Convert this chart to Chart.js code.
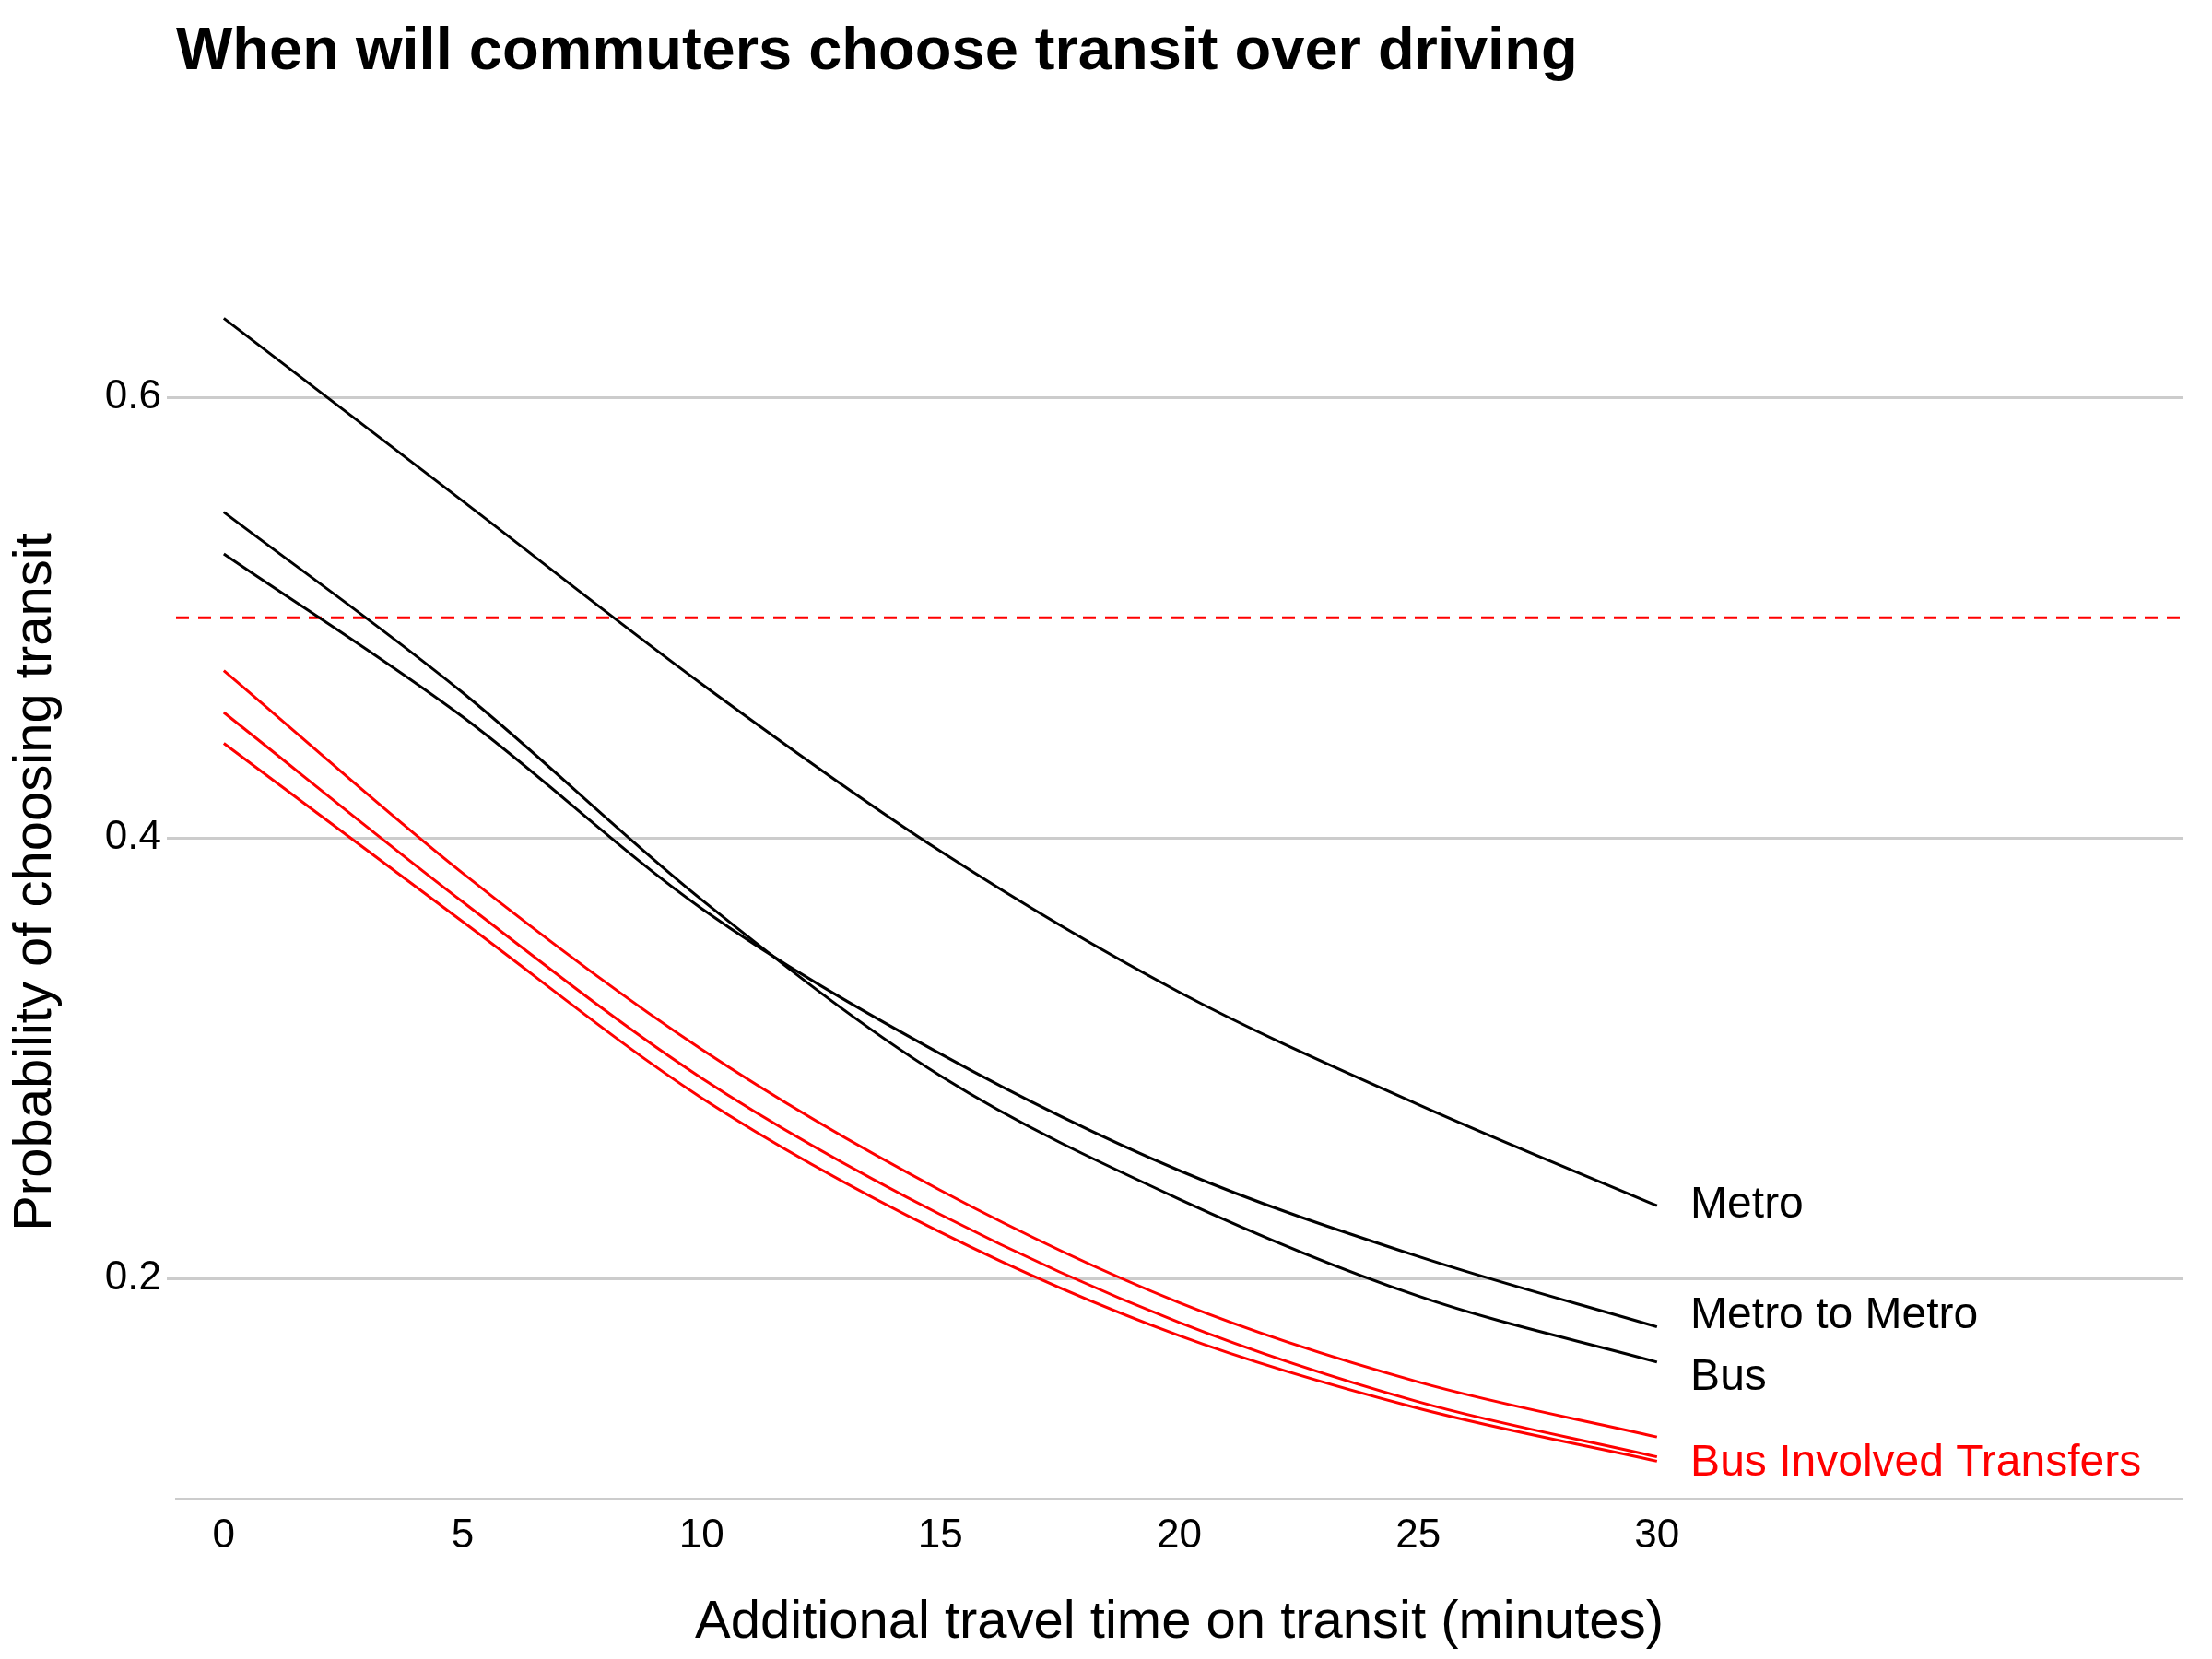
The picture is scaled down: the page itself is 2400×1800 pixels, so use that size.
<!DOCTYPE html>
<html>
<head>
<meta charset="utf-8">
<script src="https://cdn.jsdelivr.net/npm/chart.js@4"></script>
<style>
  html, body { margin: 0; padding: 0; background: #fff; }
  canvas { display: block; }
</style>
</head>
<body>
<canvas id="chart" width="2400" height="1800"></canvas>
<script>
/* ── Data ── */
const minutes = [0, 5, 10, 15, 20, 25, 30];
const metro         = [0.636, 0.553, 0.470, 0.394, 0.330, 0.279, 0.233];
const metroToMetro  = [0.529, 0.455, 0.368, 0.302, 0.249, 0.210, 0.178];
const bus           = [0.548, 0.466, 0.372, 0.292, 0.236, 0.192, 0.162];
const busTransferA  = [0.476, 0.384, 0.304, 0.240, 0.189, 0.153, 0.128];
const busTransferB  = [0.457, 0.371, 0.291, 0.229, 0.180, 0.144, 0.119];
const busTransferC  = [0.443, 0.362, 0.282, 0.221, 0.174, 0.141, 0.117];
const xTicks = [0, 5, 10, 15, 20, 25, 30];
const yTicks = [0.2, 0.4, 0.6];
const threshold = 0.5;

const endLabels = [
    { text: 'Metro',                  y: 0.233, color: '#000' },
    { text: 'Metro to Metro',         y: 0.183, color: '#000' },
    { text: 'Bus',                    y: 0.155, color: '#000' },
    { text: 'Bus Involved Transfers', y: 0.116, color: '#ff0000' }
];

const FONT = "'Liberation Sans', Arial, sans-serif";

function series(vals, color) {
    return {
        data: vals.map((v, i) => ({ x: minutes[i], y: v })),
        borderColor: color, borderWidth: 3, pointRadius: 0,
        cubicInterpolationMode: 'monotone', fill: false
    };
}

const labelPlugin = {
    id: 'labels',
    afterDraw(chart) {
        const { ctx, scales: { x, y } } = chart;
        ctx.save();
        ctx.font = `48px ${FONT}`;
        ctx.textBaseline = 'middle';
        ctx.textAlign = 'left';
        endLabels.forEach(l => {
            ctx.fillStyle = l.color;
            ctx.fillText(l.text, x.getPixelForValue(30.7), y.getPixelForValue(l.y));
        });
        ctx.fillStyle = '#000';
        ctx.font = `bold 65px ${FONT}`;
        ctx.fillText('When will commuters choose transit over driving', 191, 57);
        ctx.restore();
    }
};

new Chart(document.getElementById('chart'), {
    type: 'line',
    data: {
        datasets: [
            series(metro, '#000'),
            series(metroToMetro, '#000'),
            series(bus, '#000'),
            series(busTransferA, '#ff0000'),
            series(busTransferB, '#ff0000'),
            series(busTransferC, '#ff0000'),
            {
                data: [{ x: -1, y: threshold }, { x: 41, y: threshold }],
                borderColor: '#ff0000', borderWidth: 3, borderDash: [14, 10],
                pointRadius: 0, fill: false
            }
        ]
    },
    options: {
        responsive: false, animation: false, devicePixelRatio: 1,
        layout: { padding: { top: 288, right: 32, left: 0, bottom: 0 } },
        plugins: { legend: { display: false }, tooltip: { enabled: false } },
        scales: {
            x: {
                type: 'linear', min: -1, max: 41,
                afterBuildTicks: s => { s.ticks = xTicks.map(v => ({ value: v })); },
                afterFit: s => { s.height = 174; },
                grid: { display: false, drawTicks: true, tickLength: 10, tickColor: '#cccccc' },
                border: { color: '#cccccc', width: 3 },
                ticks: { font: { family: FONT, size: 44 }, color: '#000', padding: 4 },
                title: { display: true, text: 'Additional travel time on transit (minutes)',
                         font: { family: FONT, size: 58 }, color: '#000', padding: { top: 0 } }
            },
            y: {
                min: 0.1, max: 0.66,
                afterBuildTicks: s => { s.ticks = yTicks.map(v => ({ value: v })); },
                afterFit: s => { s.width = 191; },
                grid: { color: '#cccccc', lineWidth: 3, tickLength: 10 },
                border: { display: false },
                ticks: { font: { family: FONT, size: 44 }, color: '#000', padding: 6,
                         callback: v => v.toFixed(1) },
                title: { display: true, text: 'Probability of choosing transit',
                         font: { family: FONT, size: 58 }, color: '#000' }
            }
        }
    },
    plugins: [labelPlugin]
});
</script>
</body>
</html>
